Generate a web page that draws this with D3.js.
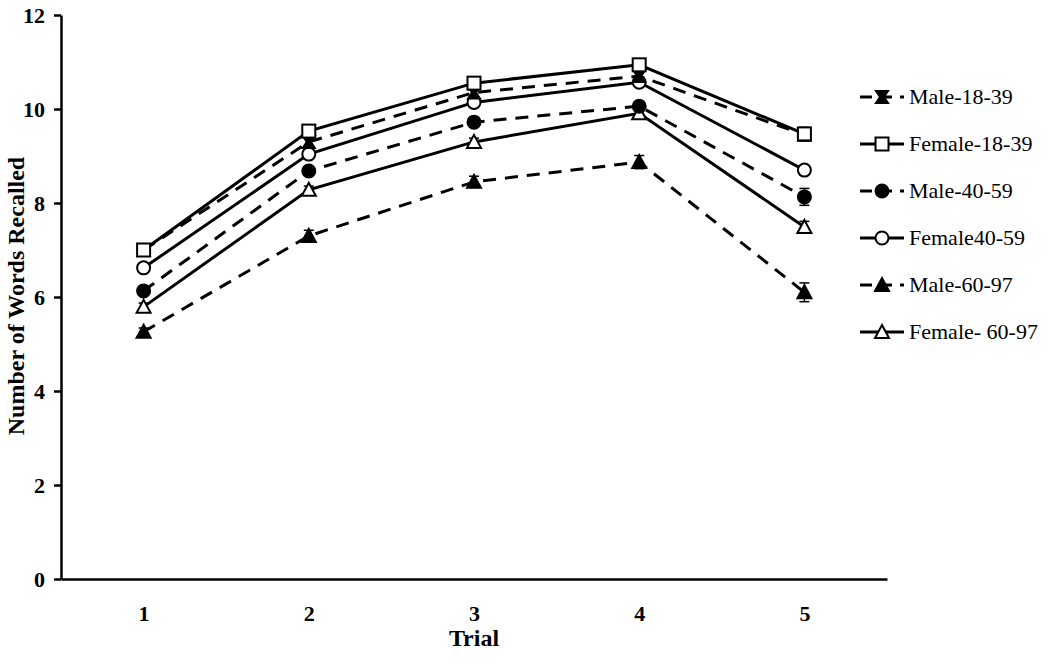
<!DOCTYPE html>
<html><head><meta charset="utf-8">
<script src="https://cdn.jsdelivr.net/npm/d3@7"></script>
<style>body{margin:0;background:#fff;} svg{display:block;} text{font-family:"Liberation Serif","Times New Roman","DejaVu Serif",serif;}</style>
</head><body>
<svg id="chart" width="1050" height="665"></svg>
<script>
const trials = [1, 2, 3, 4, 5];
const seriesNames = ["Male-18-39", "Female-18-39", "Male-40-59", "Female40-59", "Male-60-97", "Female- 60-97"];
const male1839 = [7.0, 9.3, 10.35, 10.7, 9.45];
const female1839 = [7.0, 9.53, 10.55, 10.94, 9.47];
const male4059 = [6.13, 8.68, 9.72, 10.06, 8.13];
const female4059 = [6.62, 9.04, 10.14, 10.57, 8.7];
const male6097 = [5.26, 7.3, 8.45, 8.87, 6.1];
const female6097 = [5.79, 8.28, 9.3, 9.91, 7.49];
const male1839Err = [0.08, 0.08, 0.1, 0.1, 0.12];
const female1839Err = [0.08, 0.08, 0.08, 0.08, 0.14];
const male4059Err = [0.08, 0.08, 0.1, 0.1, 0.18];
const female4059Err = [0.08, 0.08, 0.08, 0.08, 0.1];
const male6097Err = [0.08, 0.12, 0.12, 0.14, 0.2];
const female6097Err = [0.08, 0.08, 0.08, 0.08, 0.12];
const yTicks = [0, 2, 4, 6, 8, 10, 12];

const series = [
  {name: seriesNames[0], values: male1839, err: male1839Err, dashed: true, shape: "bowtie", filled: true},
  {name: seriesNames[1], values: female1839, err: female1839Err, dashed: false, shape: "square", filled: false},
  {name: seriesNames[2], values: male4059, err: male4059Err, dashed: true, shape: "circle", filled: true},
  {name: seriesNames[3], values: female4059, err: female4059Err, dashed: false, shape: "circle", filled: false},
  {name: seriesNames[4], values: male6097, err: male6097Err, dashed: true, shape: "triangle", filled: true},
  {name: seriesNames[5], values: female6097, err: female6097Err, dashed: false, shape: "triangle", filled: false}
];

const svg = d3.select("#chart");
const x = d3.scaleLinear().domain([0.5, 5.5]).range([61, 887]);
const y = d3.scaleLinear().domain([0, 12]).range([579, 15]);
const serif = "Liberation Serif, Times New Roman, DejaVu Serif, serif";

// axes
const yAxis = svg.append("g").attr("transform", "translate(61,0)")
  .call(d3.axisLeft(y).tickValues(yTicks).tickSize(7).tickPadding(9).tickSizeOuter(0));
yAxis.attr("font-family", serif);
yAxis.select(".domain").attr("stroke", "#000").attr("stroke-width", 2.5);
yAxis.selectAll(".tick line").attr("stroke", "#000").attr("stroke-width", 2.5);
yAxis.selectAll(".tick text").attr("font-family", serif).attr("font-weight", "bold")
  .attr("font-size", 22).attr("fill", "#000");

const xAxis = svg.append("g").attr("transform", "translate(0,579)")
  .call(d3.axisBottom(x).tickValues(trials).tickSize(0).tickPadding(26).tickSizeOuter(0).tickFormat(d3.format("d")));
xAxis.attr("font-family", serif);
xAxis.select(".domain").attr("stroke", "#000").attr("stroke-width", 2.5);
xAxis.selectAll(".tick text").attr("font-family", serif).attr("font-weight", "bold")
  .attr("font-size", 22).attr("fill", "#000");

svg.append("text").attr("x", x(3)).attr("y", 646).attr("text-anchor", "middle")
  .attr("font-family", serif).attr("font-weight", "bold").attr("font-size", 24).text("Trial");
svg.append("text").attr("transform", "translate(24,296) rotate(-90)").attr("text-anchor", "middle")
  .attr("font-family", serif).attr("font-weight", "bold").attr("font-size", 24).text("Number of Words Recalled");

function drawMarker(g, s, cx, cy) {
  const fill = s.filled ? "#000" : "#fff";
  if (s.shape === "square") {
    g.append("rect").attr("x", cx - 6.5).attr("y", cy - 6.5).attr("width", 13).attr("height", 13)
      .attr("fill", fill).attr("stroke", "#000").attr("stroke-width", 2);
  } else if (s.shape === "bowtie") {
    g.append("path").attr("d", `M${cx-6},${cy-6}L${cx+6},${cy-6}L${cx+2},${cy}L${cx+6},${cy+6}L${cx-6},${cy+6}L${cx-2},${cy}Z`)
      .attr("fill", "#000").attr("stroke", "#000").attr("stroke-width", 2);
  } else if (s.shape === "circle") {
    g.append("circle").attr("cx", cx).attr("cy", cy).attr("r", 6.5)
      .attr("fill", fill).attr("stroke", "#000").attr("stroke-width", 2);
  } else {
    g.append("path").attr("d", `M${cx},${cy-7}L${cx+7},${cy+6}L${cx-7},${cy+6}Z`)
      .attr("fill", fill).attr("stroke", "#000").attr("stroke-width", 2).attr("stroke-linejoin", "miter");
  }
}

const line = d3.line().x((d, i) => x(trials[i])).y(d => y(d));

const order = [4, 5, 2, 3, 0, 1];
order.forEach(k => {
  const s = series[k];
  const g = svg.append("g");
  s.values.forEach((v, i) => {
    const cx = x(trials[i]);
    g.append("line").attr("x1", cx).attr("x2", cx).attr("y1", y(v - s.err[i])).attr("y2", y(v + s.err[i]))
      .attr("stroke", "#000").attr("stroke-width", 1.5);
    [v - s.err[i], v + s.err[i]].forEach(e => {
      g.append("line").attr("x1", cx - 5).attr("x2", cx + 5).attr("y1", y(e)).attr("y2", y(e))
        .attr("stroke", "#000").attr("stroke-width", 1.5);
    });
  });
  g.append("path").datum(s.values).attr("d", line).attr("fill", "none").attr("stroke", "#000")
    .attr("stroke-width", 3).attr("stroke-dasharray", s.dashed ? "13,9" : null);
  s.values.forEach((v, i) => drawMarker(g, s, x(trials[i]), y(v)));
});

const leg = svg.append("g");
series.forEach((s, i) => {
  const ly = 97 + i * 47;
  const g = leg.append("g");
  g.append("line").attr("x1", 860).attr("x2", 904).attr("y1", ly).attr("y2", ly)
    .attr("stroke", "#000").attr("stroke-width", 3).attr("stroke-dasharray", s.dashed ? "12,8" : null);
  drawMarker(g, s, 882, ly);
  g.append("text").attr("x", 909).attr("y", ly + 7).attr("font-family", serif)
    .attr("font-size", 22).attr("fill", "#000").text(s.name);
});
</script>
</body></html>
